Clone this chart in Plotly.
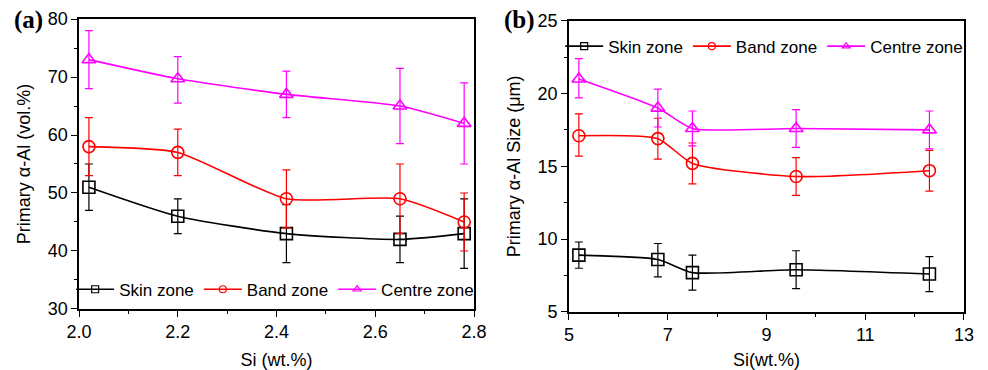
import plotly.graph_objects as go

# ---- Panel (a): volume fraction of primary alpha-Al vs Si content ----
si_a = [2.02, 2.20, 2.42, 2.65, 2.78]
skin_a = [51, 46, 43, 42, 43]
skin_a_hi = [55, 49, 48, 46, 49]
skin_a_lo = [47, 43, 38, 38, 37]
band_a = [58, 57, 49, 49, 45]
band_a_hi = [63, 61, 54, 55, 50]
band_a_lo = [53, 53, 44, 43, 40]
centre_a = [73, 69.7, 67, 65, 62]
centre_a_hi = [78, 73.5, 71, 71.5, 69]
centre_a_lo = [68, 65.5, 63, 58.5, 55]

# ---- Panel (b): size of primary alpha-Al vs Si content ----
si_b = [5.2, 6.8, 7.5, 9.6, 12.3]
skin_b = [8.9, 8.6, 7.7, 7.9, 7.6]
skin_b_hi = [9.8, 9.7, 8.9, 9.2, 8.8]
skin_b_lo = [8.0, 7.4, 6.5, 6.6, 6.4]
band_b = [17.1, 16.9, 15.2, 14.3, 14.7]
band_b_hi = [18.6, 18.3, 16.6, 15.6, 16.1]
band_b_lo = [15.7, 15.5, 13.8, 13.0, 13.3]
centre_b = [21.0, 19.0, 17.6, 17.6, 17.5]
centre_b_hi = [22.4, 20.3, 18.8, 18.9, 18.8]
centre_b_lo = [19.7, 17.7, 16.4, 16.3, 16.2]

zones = ["Skin zone", "Band zone", "Centre zone"]
colors = ["#000000", "#FF0000", "#FF00FF"]
symbols = ["square-open", "circle-open", "triangle-up-open"]

FONT = "Liberation Sans, Arial, sans-serif"

fig = go.Figure()


def add_series(x, y, hi, lo, name, color, symbol, xa, ya, legend):
    fig.add_trace(go.Scatter(
        x=x, y=y, name=name, xaxis=xa, yaxis=ya, showlegend=False,
        mode="lines+markers",
        line=dict(color=color, width=1.6, shape="spline", smoothing=0.6),
        marker=dict(symbol=symbol, size=12, color=color,
                    line=dict(color=color, width=1.6)),
        error_y=dict(type="data", symmetric=False,
                     array=[h - v for h, v in zip(hi, y)],
                     arrayminus=[v - l for v, l in zip(y, lo)],
                     color=color, thickness=1.2, width=4),
    ))
    # legend key: thin line with a small open marker
    fig.add_trace(go.Scatter(
        x=[None], y=[None], name=name, xaxis=xa, yaxis=ya, legend=legend,
        mode="lines+markers", hoverinfo="skip",
        line=dict(color=color, width=1.6),
        marker=dict(symbol=symbol, size=7, color=color,
                    line=dict(color=color, width=1.2)),
    ))


series_a = [(skin_a, skin_a_hi, skin_a_lo),
            (band_a, band_a_hi, band_a_lo),
            (centre_a, centre_a_hi, centre_a_lo)]
series_b = [(skin_b, skin_b_hi, skin_b_lo),
            (band_b, band_b_hi, band_b_lo),
            (centre_b, centre_b_hi, centre_b_lo)]

for (y, hi, lo), name, c, s in zip(series_a, zones, colors, symbols):
    add_series(si_a, y, hi, lo, name, c, s, "x", "y", "legend")
for (y, hi, lo), name, c, s in zip(series_b, zones, colors, symbols):
    add_series(si_b, y, hi, lo, name, c, s, "x2", "y2", "legend2")

tickfont = dict(family=FONT, size=18, color="black")
titlefont = dict(family=FONT, size=18, color="black")

axis_common = dict(
    showline=True, linecolor="black", linewidth=1.5, mirror=True,
    ticks="outside", ticklen=6, tickwidth=1.3, tickcolor="black",
    showgrid=False, zeroline=False, tickfont=tickfont, automargin=False,
)
minor_common = dict(ticks="outside", ticklen=3, tickwidth=1.2,
                    tickcolor="black", showgrid=False)

legend_common = dict(orientation="h", xanchor="left", yanchor="middle",
                     bgcolor="rgba(0,0,0,0)",
                     font=dict(family=FONT, size=17, color="black"),
                     itemwidth=38, tracegroupgap=0)

fig.update_layout(
    width=988, height=370,
    margin=dict(l=0, r=0, t=0, b=0),
    paper_bgcolor="white", plot_bgcolor="white",
    xaxis=dict(domain=[0.080, 0.4798], range=[2.0, 2.8], dtick=0.2,
               tick0=2.0, tickformat=".1f", anchor="y",
               title=dict(text="Si (wt.%)", font=titlefont, standoff=20),
               minor=dict(dtick=0.1, **minor_common), **axis_common),
    yaxis=dict(domain=[0.1649, 0.9486], range=[30, 80], dtick=10,
               tick0=30, anchor="x",
               title=dict(text="Primary α-Al (vol.%)", font=titlefont,
                          standoff=12),
               minor=dict(dtick=5, **minor_common), **axis_common),
    xaxis2=dict(domain=[0.5759, 0.9757], range=[5, 13], dtick=2, tick0=5,
                anchor="y2",
                title=dict(text="Si(wt.%)", font=titlefont, standoff=20),
                minor=dict(dtick=1, tick0=5, **minor_common), **axis_common),
    yaxis2=dict(domain=[0.157, 0.944], range=[5, 25], dtick=5, tick0=5,
                anchor="x2",
                title=dict(text="Primary α-Al Size (μm)", font=titlefont,
                           standoff=12),
                minor=dict(dtick=2.5, **minor_common), **axis_common),
    legend=dict(x=0.072, y=0.217, **legend_common),
    legend2=dict(x=0.567, y=0.874, **legend_common),
    showlegend=True,
)

# Panel letters
for txt, xp in [("(a)", 0.012), ("(b)", 0.508)]:
    fig.add_annotation(text=f"<b>{txt}</b>", xref="paper", yref="paper",
                       x=xp, y=0.945, xanchor="left", yanchor="middle",
                       showarrow=False,
                       font=dict(family="Liberation Serif, Times New Roman, serif",
                                 size=25, color="black"))

fig.write_html("out.html")
